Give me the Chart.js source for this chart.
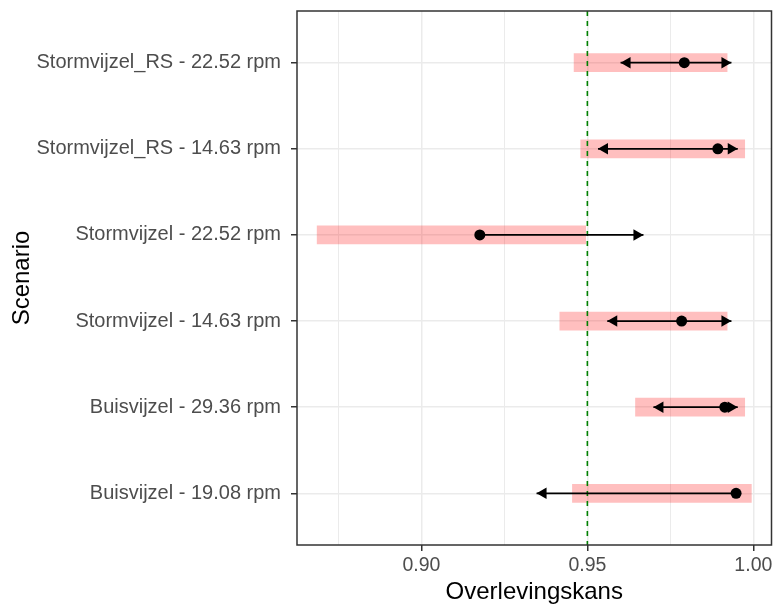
<!DOCTYPE html>
<html>
<head>
<meta charset="utf-8">
<script src="https://cdn.jsdelivr.net/npm/chart.js@4.4.1/dist/chart.umd.min.js"></script>
<style>
  html, body { margin: 0; padding: 0; background: #fff; }
</style>
</head>
<body>
<canvas id="chart" width="777" height="604"></canvas>
<script>
// scenarios, top to bottom
const scenarios = [
  "Stormvijzel_RS - 22.52 rpm",
  "Stormvijzel_RS - 14.63 rpm",
  "Stormvijzel - 22.52 rpm",
  "Stormvijzel - 14.63 rpm",
  "Buisvijzel - 29.36 rpm",
  "Buisvijzel - 19.08 rpm"
];
// pink range
const bandLow  = [0.9460, 0.9480, 0.8686, 0.9417, 0.9645, 0.9455];
const bandHigh = [0.9921, 0.9974, 0.9495, 0.9921, 0.9974, 0.9994];
// point estimate + arrow ends
const estimate = [0.9792, 0.9893, 0.9176, 0.9784, 0.9914, 0.9948];
const ciLow    = [0.9600, 0.9532, 0.9176, 0.9560, 0.9699, 0.9347];
const ciHigh   = [0.9934, 0.9953, 0.9669, 0.9934, 0.9953, 0.9948];

const xMajorTicks = [0.90, 0.95, 1.00];
const xMinorTicks = [0.875, 0.925, 0.975];
const xLimits = [0.86253, 1.00547];
const threshold = 0.95;

const FONT = "'Liberation Sans', Arial, sans-serif";

function arrowHead(ctx, tipX, y, dir) {
  // dir = 1 -> points left, -1 -> points right
  ctx.beginPath();
  ctx.moveTo(tipX, y);
  ctx.lineTo(tipX + dir * 10, y - 5.8);
  ctx.lineTo(tipX + dir * 10, y + 5.8);
  ctx.closePath();
  ctx.fill();
}

const overlay = {
  id: "overlay",
  afterDatasetDraw(chart, args) {
    if (args.meta.type !== "bar") return;
    const { ctx, chartArea: a, scales: { x, y } } = chart;
    ctx.save();
    ctx.beginPath();
    ctx.rect(a.left, a.top, a.right - a.left, a.bottom - a.top);
    ctx.clip();

    // reference line
    const tx = x.getPixelForValue(threshold);
    ctx.strokeStyle = "#008000";
    ctx.lineWidth = 1.6;
    ctx.setLineDash([5, 5]);
    ctx.beginPath();
    ctx.moveTo(tx, a.top);
    ctx.lineTo(tx, a.bottom);
    ctx.stroke();
    ctx.setLineDash([]);

    // arrows
    ctx.strokeStyle = "#000";
    ctx.fillStyle = "#000";
    ctx.lineWidth = 1.8;
    scenarios.forEach((_, i) => {
      const py = y.getPixelForValue(i);
      const x0 = x.getPixelForValue(ciLow[i]);
      const x1 = x.getPixelForValue(ciHigh[i]);
      ctx.beginPath();
      ctx.moveTo(x0, py);
      ctx.lineTo(x1, py);
      ctx.stroke();
      if (ciLow[i] < estimate[i]) arrowHead(ctx, x0, py, 1);
      if (ciHigh[i] > estimate[i]) arrowHead(ctx, x1, py, -1);
    });
    ctx.restore();
  },
  afterDatasetsDraw(chart) {
    const { ctx, chartArea: a } = chart;
    ctx.save();
    ctx.strokeStyle = "#333333";
    ctx.lineWidth = 1.5;
    ctx.strokeRect(a.left, a.top, a.right - a.left, a.bottom - a.top);
    ctx.restore();
  }
};

new Chart(document.getElementById("chart").getContext("2d"), {
  type: "bar",
  data: {
    datasets: [
      {
        type: "scatter",
        data: estimate.map((v, i) => ({ x: v, y: i })),
        backgroundColor: "#000",
        borderColor: "#000",
        pointRadius: 5.5,
        pointBorderWidth: 0,
        order: 1
      },
      {
        type: "bar",
        data: scenarios.map((_, i) => ({ y: i, x: [bandLow[i], bandHigh[i]] })),
        backgroundColor: "rgba(255, 0, 0, 0.25)",
        borderWidth: 0,
        barThickness: 18,
        order: 2
      }
    ]
  },
  options: {
    indexAxis: "y",
    responsive: false,
    animation: false,
    layout: { padding: { top: 11, right: 2, left: 0, bottom: 0 } },
    plugins: { legend: { display: false }, tooltip: { enabled: false } },
    scales: {
      x: {
        type: "linear",
        position: "bottom",
        min: xLimits[0],
        max: xLimits[1],
        afterBuildTicks: s => {
          s.ticks = [...xMinorTicks, ...xMajorTicks].sort((a, b) => a - b).map(v => ({ value: v }));
        },
        afterFit: s => { s.height = 59; s.paddingLeft = 0; s.paddingRight = 0; },
        grid: {
          color: "#EBEBEB",
          lineWidth: c => xMajorTicks.includes(c.tick.value) ? 1.5 : 1,
          tickLength: 6,
          tickWidth: 1.5,
          tickColor: c => xMajorTicks.includes(c.tick.value) ? "#333333" : "rgba(0,0,0,0)"
        },
        border: { display: false },
        ticks: {
          autoSkip: false,
          maxRotation: 0,
          padding: 3,
          color: "#4D4D4D",
          font: { family: FONT, size: 19.5 },
          callback: v => xMajorTicks.includes(v) ? v.toFixed(2) : ""
        },
        title: {
          display: true,
          text: "Overlevingskans",
          color: "#000",
          padding: { top: 0, bottom: 0 },
          font: { family: FONT, size: 24, lineHeight: 1 }
        }
      },
      y: {
        type: "linear",
        reverse: true,
        offset: false,
        min: -0.6,
        max: scenarios.length - 0.4,
        afterBuildTicks: s => { s.ticks = scenarios.map((_, i) => ({ value: i })); },
        afterFit: s => { s.width = 297; s.paddingTop = 0; s.paddingBottom = 0; },
        grid: {
          offset: false,
          color: "#EBEBEB",
          lineWidth: 1.5,
          tickLength: 6,
          tickWidth: 1.5,
          tickColor: "#333333"
        },
        border: { display: false },
        ticks: {
          autoSkip: false,
          padding: 10,
          color: "#4D4D4D",
          font: { family: FONT, size: 20 },
          callback: v => scenarios[v]
        },
        title: {
          display: true,
          text: "Scenario",
          color: "#000",
          padding: { top: 10, bottom: 0 },
          font: { family: FONT, size: 24, lineHeight: 1 }
        }
      }
    }
  },
  plugins: [overlay]
});
</script>
</body>
</html>
